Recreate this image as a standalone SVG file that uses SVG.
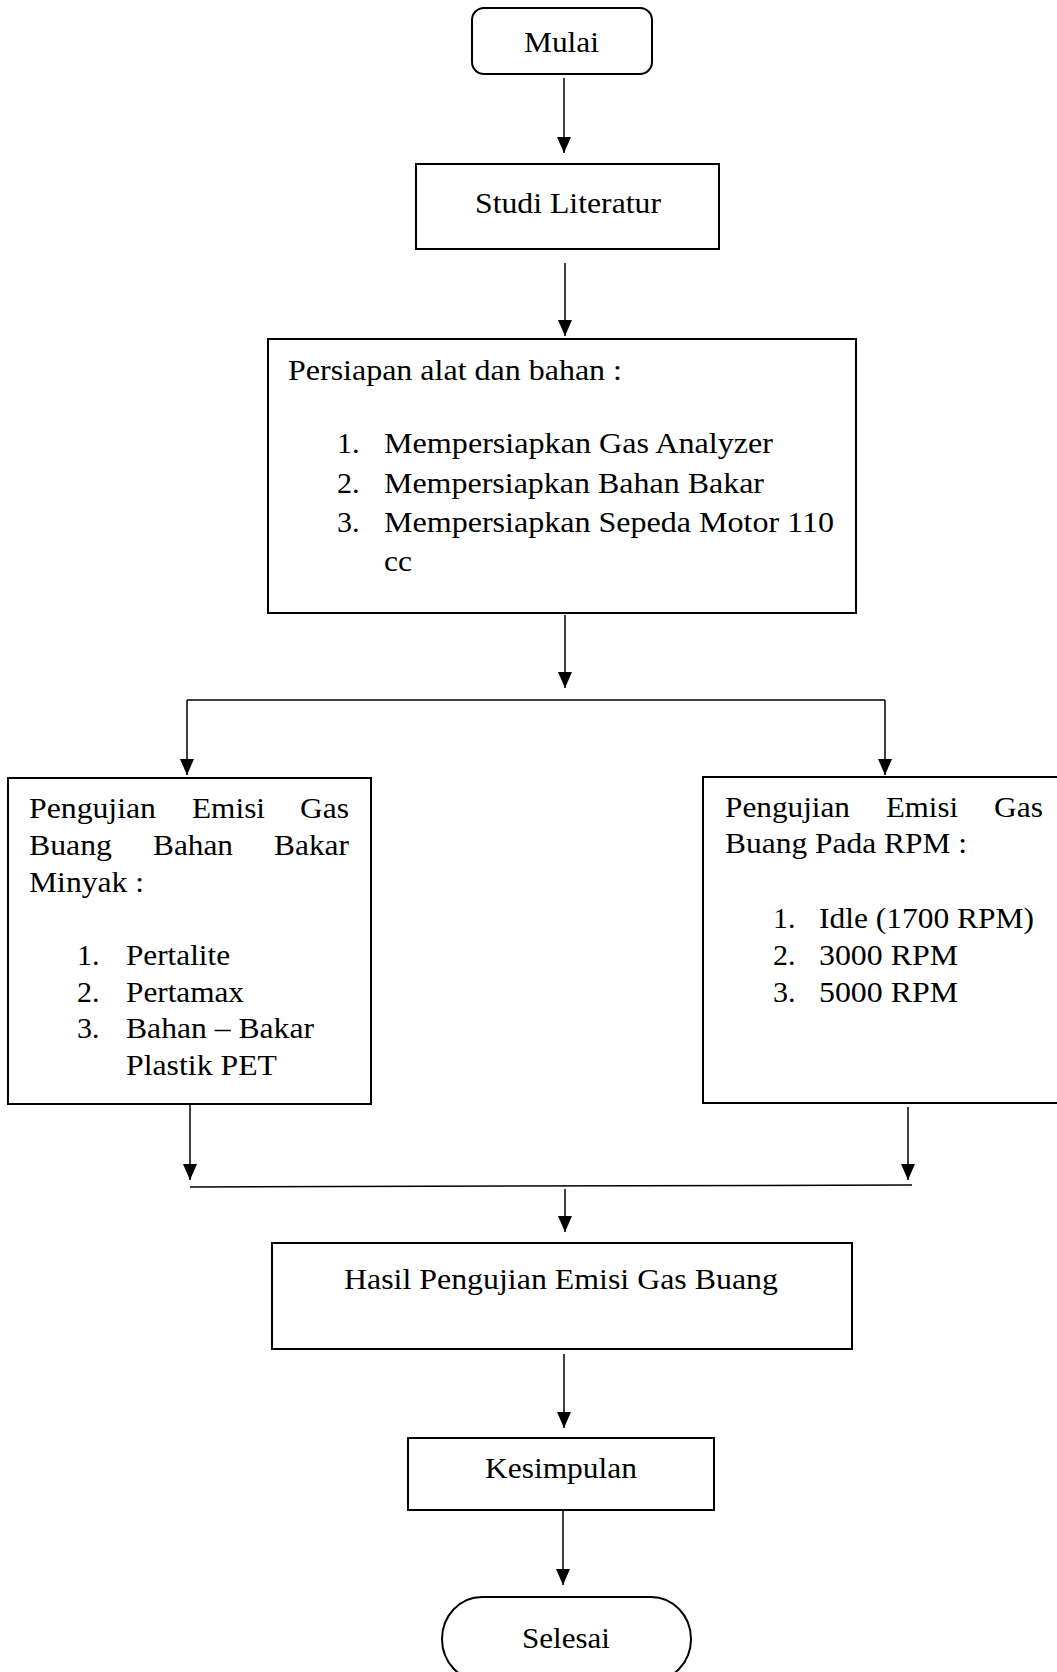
<svg xmlns="http://www.w3.org/2000/svg" width="1057" height="1672" viewBox="0 0 1057 1672">
<style>
  .box { fill: #ffffff; stroke: #000000; stroke-width: 2; }
  text { font-family: 'Liberation Serif', Tinos, 'Times New Roman', 'Nimbus Roman', 'Nimbus Roman No9 L', FreeSerif, serif; font-size: 30px; fill: #000000; }
  .c { fill: none; stroke: #000000; stroke-width: 1.5; }
  .ca { fill: none; stroke: #000000; stroke-width: 1.5; marker-end: url(#ah); }
</style>
<defs>
  <marker id="ah" markerUnits="userSpaceOnUse" markerWidth="16" markerHeight="14" refX="16" refY="7" orient="auto">
    <path d="M0,0 L16,7 L0,14 z" fill="#000000"/>
  </marker>
</defs>
<rect x="0" y="0" width="1057" height="1672" fill="#ffffff"/>

<g id="connectors">
  <line class="ca" x1="564" y1="78" x2="564" y2="153"/>
  <line class="ca" x1="565" y1="263" x2="565" y2="336"/>
  <line class="ca" x1="565" y1="615" x2="565" y2="688"/>
  <line class="c" x1="187" y1="700" x2="885" y2="700"/>
  <line class="ca" x1="187" y1="700" x2="187" y2="775"/>
  <line class="ca" x1="885" y1="700" x2="885" y2="775"/>
  <line class="ca" x1="190" y1="1105" x2="190" y2="1180"/>
  <line class="ca" x1="908" y1="1107" x2="908" y2="1180"/>
  <line class="c" x1="190" y1="1187" x2="912" y2="1185"/>
  <line class="ca" x1="565" y1="1189" x2="565" y2="1232"/>
  <line class="ca" x1="564" y1="1354" x2="564" y2="1428"/>
  <line class="ca" x1="563" y1="1510" x2="563" y2="1585"/>
</g>

<g id="mulai">
  <rect class="box" x="472" y="8" width="180" height="66" rx="12" ry="12"/>
  <text x="524" y="52" textLength="75" lengthAdjust="spacingAndGlyphs">Mulai</text>
</g>

<g id="studi-literatur">
  <rect class="box" x="416" y="164" width="303" height="85"/>
  <text x="475" y="213" textLength="186" lengthAdjust="spacingAndGlyphs">Studi Literatur</text>
</g>

<g id="persiapan">
  <rect class="box" x="268" y="339" width="588" height="274"/>
  <text x="288" y="380" textLength="334" lengthAdjust="spacingAndGlyphs">Persiapan alat dan bahan :</text>
  <text x="337" y="453">1.</text>
  <text x="384" y="453" textLength="389" lengthAdjust="spacingAndGlyphs">Mempersiapkan Gas Analyzer</text>
  <text x="337" y="493">2.</text>
  <text x="384" y="493" textLength="380" lengthAdjust="spacingAndGlyphs">Mempersiapkan Bahan Bakar</text>
  <text x="337" y="532">3.</text>
  <text x="384" y="532" textLength="450" lengthAdjust="spacingAndGlyphs">Mempersiapkan Sepeda Motor 110</text>
  <text x="384" y="571" textLength="28" lengthAdjust="spacingAndGlyphs">cc</text>
</g>

<g id="uji-bahan-bakar">
  <rect class="box" x="8" y="778" width="363" height="326"/>
  <text x="29" y="818" textLength="127" lengthAdjust="spacingAndGlyphs">Pengujian</text>
  <text x="192" y="818" textLength="73" lengthAdjust="spacingAndGlyphs">Emisi</text>
  <text x="300" y="818" textLength="49" lengthAdjust="spacingAndGlyphs">Gas</text>
  <text x="29" y="855" textLength="83" lengthAdjust="spacingAndGlyphs">Buang</text>
  <text x="153" y="855" textLength="80" lengthAdjust="spacingAndGlyphs">Bahan</text>
  <text x="274" y="855" textLength="75" lengthAdjust="spacingAndGlyphs">Bakar</text>
  <text x="29" y="892" textLength="115" lengthAdjust="spacingAndGlyphs">Minyak :</text>
  <text x="77" y="965">1.</text>
  <text x="126" y="965" textLength="104" lengthAdjust="spacingAndGlyphs">Pertalite</text>
  <text x="77" y="1002">2.</text>
  <text x="126" y="1002" textLength="118" lengthAdjust="spacingAndGlyphs">Pertamax</text>
  <text x="77" y="1038">3.</text>
  <text x="126" y="1038" textLength="188" lengthAdjust="spacingAndGlyphs">Bahan – Bakar</text>
  <text x="126" y="1075" textLength="151" lengthAdjust="spacingAndGlyphs">Plastik PET</text>
</g>

<g id="uji-rpm">
  <rect class="box" x="703" y="777" width="370" height="326"/>
  <text x="725" y="817" textLength="125" lengthAdjust="spacingAndGlyphs">Pengujian</text>
  <text x="886" y="817" textLength="72" lengthAdjust="spacingAndGlyphs">Emisi</text>
  <text x="994" y="817" textLength="49" lengthAdjust="spacingAndGlyphs">Gas</text>
  <text x="725" y="853" textLength="242" lengthAdjust="spacingAndGlyphs">Buang Pada RPM :</text>
  <text x="773" y="928">1.</text>
  <text x="819" y="928" textLength="215" lengthAdjust="spacingAndGlyphs">Idle (1700 RPM)</text>
  <text x="773" y="965">2.</text>
  <text x="819" y="965" textLength="139" lengthAdjust="spacingAndGlyphs">3000 RPM</text>
  <text x="773" y="1002">3.</text>
  <text x="819" y="1002" textLength="139" lengthAdjust="spacingAndGlyphs">5000 RPM</text>
</g>

<g id="hasil">
  <rect class="box" x="272" y="1243" width="580" height="106"/>
  <text x="344" y="1289" textLength="434" lengthAdjust="spacingAndGlyphs">Hasil Pengujian Emisi Gas Buang</text>
</g>

<g id="kesimpulan">
  <rect class="box" x="408" y="1438" width="306" height="72"/>
  <text x="485" y="1478" textLength="152" lengthAdjust="spacingAndGlyphs">Kesimpulan</text>
</g>

<g id="selesai">
  <rect class="box" x="442" y="1597" width="249" height="84" rx="40" ry="42"/>
  <text x="522" y="1648" textLength="88" lengthAdjust="spacingAndGlyphs">Selesai</text>
</g>
</svg>
